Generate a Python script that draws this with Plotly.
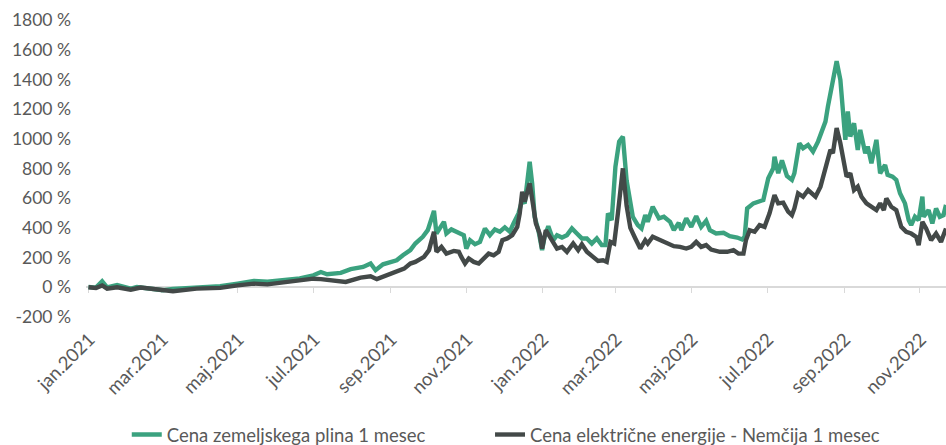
import plotly.graph_objects as go

# ---------------- data ----------------
gas_dates = [
    "2021-01-01", "2021-01-07", "2021-01-12", "2021-01-16", "2021-01-24", "2021-01-29",
    "2021-02-04", "2021-02-09", "2021-02-17", "2021-03-02", "2021-03-10", "2021-03-29",
    "2021-04-17", "2021-05-01", "2021-05-14", "2021-05-25", "2021-06-10", "2021-06-20",
    "2021-07-01", "2021-07-07", "2021-07-12", "2021-07-23", "2021-07-31", "2021-08-10",
    "2021-08-16", "2021-08-20", "2021-08-26", "2021-09-06", "2021-09-11", "2021-09-17",
    "2021-09-21", "2021-09-27", "2021-10-01", "2021-10-06", "2021-10-08", "2021-10-11",
    "2021-10-14", "2021-10-16", "2021-10-20", "2021-10-24", "2021-10-28", "2021-10-30",
    "2021-11-01", "2021-11-04", "2021-11-08", "2021-11-12", "2021-11-16", "2021-11-20",
    "2021-11-24", "2021-11-28", "2021-12-02", "2021-12-06", "2021-12-09", "2021-12-13",
    "2021-12-16", "2021-12-18", "2021-12-22", "2021-12-24", "2021-12-26", "2021-12-29",
    "2022-01-01", "2022-01-03", "2022-01-06", "2022-01-10", "2022-01-13", "2022-01-17",
    "2022-01-21", "2022-01-25", "2022-01-29", "2022-02-02", "2022-02-06", "2022-02-10",
    "2022-02-14", "2022-02-18", "2022-02-21", "2022-02-23", "2022-02-26", "2022-03-01",
    "2022-03-04", "2022-03-07", "2022-03-10", "2022-03-13", "2022-03-15", "2022-03-19",
    "2022-03-22", "2022-03-25", "2022-03-27", "2022-03-31", "2022-04-05", "2022-04-09",
    "2022-04-14", "2022-04-17", "2022-04-21", "2022-04-23", "2022-04-27", "2022-05-01",
    "2022-05-05", "2022-05-09", "2022-05-13", "2022-05-16", "2022-05-21", "2022-05-27",
    "2022-06-01", "2022-06-07", "2022-06-11", "2022-06-13", "2022-06-15", "2022-06-20",
    "2022-06-25", "2022-06-28", "2022-07-02", "2022-07-06", "2022-07-07", "2022-07-10",
    "2022-07-13", "2022-07-17", "2022-07-21", "2022-07-23", "2022-07-27", "2022-07-30",
    "2022-08-03", "2022-08-07", "2022-08-11", "2022-08-14", "2022-08-17", "2022-08-19",
    "2022-08-22", "2022-08-25", "2022-08-26", "2022-08-29", "2022-08-31", "2022-09-02",
    "2022-09-04", "2022-09-06", "2022-09-09", "2022-09-12", "2022-09-14", "2022-09-18",
    "2022-09-20", "2022-09-23", "2022-09-27", "2022-09-30", "2022-10-04", "2022-10-06",
    "2022-10-10", "2022-10-13", "2022-10-16", "2022-10-20", "2022-10-23", "2022-10-25",
    "2022-10-28", "2022-10-31", "2022-11-03", "2022-11-04", "2022-11-08", "2022-11-11",
    "2022-11-14", "2022-11-17", "2022-11-20", "2022-11-22",
]
gas_values = [
    2, -2, 40, 0, 16, 6,
    -9, 2, -9, -20, -11, -2,
    7, 25, 43, 38, 56, 60,
    81, 103, 88, 97, 122, 137,
    160, 115, 155, 182, 216, 250,
    295, 340, 385, 515, 362, 407,
    441, 362, 390, 374, 362, 351,
    261, 317, 290, 306, 396, 351,
    390, 374, 403, 374, 430, 498,
    588, 565, 846, 700, 475, 385,
    250, 340, 412, 317, 351, 335,
    351, 396, 362, 329, 329, 295,
    329, 284, 284, 498, 452, 812,
    981, 1015, 720, 588, 475, 419,
    396, 486, 441, 542, 464, 475,
    441, 385, 434, 385, 464, 407,
    479, 407, 448, 385, 362, 367,
    344, 335, 322, 340, 531, 565,
    576, 588, 734, 801, 880, 768,
    855, 750, 723, 768, 970, 936,
    959, 914, 981, 1060, 1116, 1218,
    1353, 1511, 1522, 1398, 1173, 993,
    1184, 1015, 1105, 925, 1060, 903,
    948, 835, 993, 768, 824, 757,
    745, 723, 633, 565, 452, 419,
    475, 452, 610, 475, 520, 430,
    531, 475, 486, 555,
]

power_dates = [
    "2021-01-01", "2021-01-07", "2021-01-12", "2021-01-16", "2021-01-24", "2021-02-04",
    "2021-02-12", "2021-02-20", "2021-03-02", "2021-03-10", "2021-03-29", "2021-04-17",
    "2021-05-01", "2021-05-14", "2021-05-25", "2021-06-10", "2021-06-20", "2021-07-01",
    "2021-07-07", "2021-07-23", "2021-07-27", "2021-08-08", "2021-08-16", "2021-08-21",
    "2021-09-01", "2021-09-12", "2021-09-17", "2021-09-21", "2021-09-28", "2021-10-02",
    "2021-10-06", "2021-10-08", "2021-10-12", "2021-10-16", "2021-10-22", "2021-10-26",
    "2021-10-28", "2021-10-31", "2021-11-03", "2021-11-07", "2021-11-11", "2021-11-15",
    "2021-11-19", "2021-11-23", "2021-11-27", "2021-11-30", "2021-12-04", "2021-12-08",
    "2021-12-12", "2021-12-14", "2021-12-16", "2021-12-18", "2021-12-22", "2021-12-25",
    "2021-12-27", "2021-12-30", "2022-01-01", "2022-01-04", "2022-01-09", "2022-01-13",
    "2022-01-17", "2022-01-21", "2022-01-26", "2022-01-30", "2022-02-02", "2022-02-06",
    "2022-02-11", "2022-02-15", "2022-02-19", "2022-02-22", "2022-02-25", "2022-02-28",
    "2022-03-03", "2022-03-07", "2022-03-10", "2022-03-13", "2022-03-17", "2022-03-21",
    "2022-03-25", "2022-03-27", "2022-03-31", "2022-04-06", "2022-04-11", "2022-04-17",
    "2022-04-22", "2022-04-27", "2022-05-01", "2022-05-05", "2022-05-09", "2022-05-13",
    "2022-05-17", "2022-05-24", "2022-05-30", "2022-06-04", "2022-06-08", "2022-06-12",
    "2022-06-14", "2022-06-17", "2022-06-21", "2022-06-25", "2022-06-29", "2022-07-03",
    "2022-07-07", "2022-07-10", "2022-07-14", "2022-07-18", "2022-07-21", "2022-07-23",
    "2022-07-26", "2022-07-30", "2022-08-03", "2022-08-09", "2022-08-13", "2022-08-17",
    "2022-08-21", "2022-08-23", "2022-08-26", "2022-08-29", "2022-09-01", "2022-09-03",
    "2022-09-06", "2022-09-09", "2022-09-12", "2022-09-15", "2022-09-19", "2022-09-23",
    "2022-09-27", "2022-09-30", "2022-10-03", "2022-10-05", "2022-10-09", "2022-10-13",
    "2022-10-17", "2022-10-21", "2022-10-25", "2022-10-29", "2022-10-31", "2022-11-03",
    "2022-11-06", "2022-11-10", "2022-11-14", "2022-11-18", "2022-11-22",
]
power_values = [
    0, -5, 13, -9, 0, -16,
    -2, -9, -20, -27, -9, -4,
    13, 25, 20, 36, 45, 58,
    55, 43, 36, 65, 74, 55,
    92, 126, 160, 171, 205, 250,
    374, 239, 272, 227, 245, 239,
    205, 160, 194, 171, 160, 194,
    227, 216, 239, 317, 329, 351,
    407, 498, 644, 576, 700, 542,
    430, 362, 261, 385, 317, 261,
    272, 239, 295, 250, 290, 239,
    205, 178, 182, 171, 306, 295,
    498, 801, 550, 400, 329, 261,
    317, 295, 340, 317, 299, 277,
    272, 261, 272, 306, 272, 284,
    254, 239, 239, 250, 227, 227,
    317, 385, 374, 419, 407, 498,
    621, 565, 570, 509, 486, 531,
    633, 610, 655, 610, 678, 812,
    925, 903, 1072, 970, 812, 745,
    768, 655, 678, 610, 565, 542,
    520, 565, 520, 599, 542, 520,
    407, 374, 362, 340, 284, 441,
    396, 317, 362, 306, 396,
]

series_names = ["Cena zemeljskega plina 1 mesec",
                "Cena električne energije - Nemčija 1 mesec"]

x_tick_dates = ["2021-01-01", "2021-03-01", "2021-05-01", "2021-07-01", "2021-09-01",
                "2021-11-01", "2022-01-01", "2022-03-01", "2022-05-01", "2022-07-01",
                "2022-09-01", "2022-11-01"]
x_tick_labels = ["jan.2021", "mar.2021", "maj.2021", "jul.2021", "sep.2021", "nov.2021",
                 "jan.2022", "mar.2022", "maj.2022", "jul.2022", "sep.2022", "nov.2022"]

y_tick_values = [-200, 0, 200, 400, 600, 800, 1000, 1200, 1400, 1600, 1800]
y_tick_labels = ["-200 %", "0 %", "200 %", "400 %", "600 %", "800 %", "1000 %",
                 "1200 %", "1400 %", "1600 %", "1800 %"]

# ---------------- styling ----------------
GREEN = "#3ba27f"
DARK = "#434948"
TEXT = "#595959"
AXIS = "#d9d9d9"
FONT = "Lato"
FS_Y = 17.5
FS_X = 18.5
FS_LEG = 18.5
X_RANGE = ["2020-12-30", "2022-11-22"]
Y_RANGE = [-200, 1800]

fig = go.Figure()
fig.add_trace(go.Scatter(x=gas_dates, y=gas_values, mode="lines", name=series_names[0],
                         line=dict(color=GREEN, width=4.4), legend="legend"))
fig.add_trace(go.Scatter(x=power_dates, y=power_values, mode="lines", name=series_names[1],
                         line=dict(color=DARK, width=4.4), legend="legend2"))
# helper (empty) trace so the label-only axis x2 exists
fig.add_trace(go.Scatter(x=[x_tick_dates[0]], y=[None], xaxis="x2", mode="lines",
                         showlegend=False, hoverinfo="skip"))

zero_pos = (0 - Y_RANGE[0]) / (Y_RANGE[1] - Y_RANGE[0])

legend_common = dict(orientation="h", xref="container", yref="container",
                     xanchor="left", y=0.0225, yanchor="middle",
                     font=dict(family=FONT, size=FS_LEG, color=TEXT),
                     bgcolor="rgba(0,0,0,0)")

fig.update_layout(
    width=946, height=445,
    margin=dict(l=86, r=0, t=20, b=128, autoexpand=False),
    paper_bgcolor="white", plot_bgcolor="white",
    font=dict(family=FONT, size=FS_Y, color=TEXT),
    showlegend=True,
    legend=dict(x=0.134, **legend_common),
    legend2=dict(x=0.518, **legend_common),
    # axis crossing at 0 %: line + tick marks, no labels
    xaxis=dict(type="date", range=X_RANGE, anchor="free", position=zero_pos,
               tickvals=x_tick_dates, showticklabels=False,
               ticks="outside", ticklen=5, tickwidth=1.3, tickcolor=AXIS,
               showline=True, linecolor=AXIS, linewidth=1.5,
               showgrid=False, zeroline=False, layer="below traces", automargin=False),
    # label-only axis at the bottom of the plot area
    xaxis2=dict(type="date", range=X_RANGE, overlaying="x", anchor="y", side="bottom",
                tickvals=x_tick_dates, ticktext=x_tick_labels, tickangle=-45,
                ticks="", showline=False, showgrid=False, zeroline=False,
                ticklabelstandoff=7, ticklabelshift=1, automargin=False,
                tickfont=dict(family=FONT, size=FS_X, color=TEXT)),
    yaxis=dict(range=Y_RANGE, tickvals=y_tick_values, ticktext=y_tick_labels,
               ticks="", showline=False, showgrid=False, zeroline=False,
               ticklabelstandoff=14, automargin=False,
               tickfont=dict(family=FONT, size=FS_Y, color=TEXT)),
)

fig.write_html("out.html", config={"displayModeBar": False},
               post_script="document.body.style.margin='0';document.body.style.overflow='hidden';")
